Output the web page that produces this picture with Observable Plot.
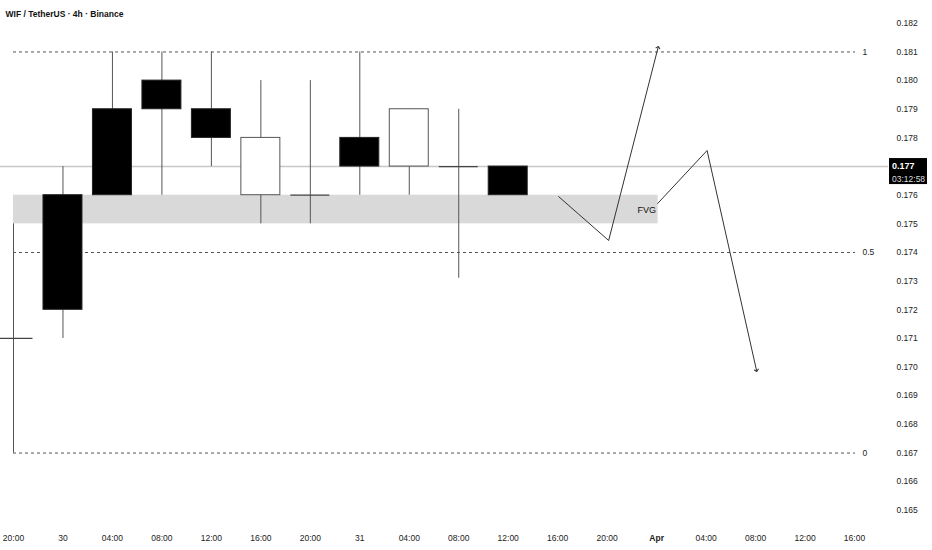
<!DOCTYPE html>
<html>
<head>
<meta charset="utf-8">
<script src="https://cdn.jsdelivr.net/npm/d3@7"></script>
<script src="https://cdn.jsdelivr.net/npm/@observablehq/plot@0.6"></script>
<style>
  html, body { margin: 0; padding: 0; background: #fff; }
  #chart svg { display: block; }
</style>
</head>
<body>
<div id="chart"></div>
<script>
// ---- data ----
const title = "WIF / TetherUS · 4h · Binance";
const xLabels = ["20:00","30","04:00","08:00","12:00","16:00","20:00","31","04:00","08:00","12:00","16:00","20:00","Apr","04:00","08:00","12:00","16:00"];
const candleIdx = [0, 1, 2, 3, 4, 5, 6, 7, 8, 9, 10];
const opens  = [0.171, 0.172, 0.176, 0.179, 0.178, 0.178, 0.176, 0.177, 0.179, 0.177, 0.176];
const highs  = [0.175, 0.177, 0.181, 0.181, 0.181, 0.180, 0.180, 0.181, 0.179, 0.179, 0.177];
const lows   = [0.167, 0.171, 0.176, 0.176, 0.177, 0.175, 0.175, 0.176, 0.176, 0.1731, 0.176];
const closes = [0.171, 0.176, 0.179, 0.180, 0.179, 0.176, 0.176, 0.178, 0.177, 0.177, 0.177];
const yTicks = [0.165,0.166,0.167,0.168,0.169,0.170,0.171,0.172,0.173,0.174,0.175,0.176,0.177,0.178,0.179,0.180,0.181,0.182];
const fibLevels = [0.181, 0.174, 0.167];
const fibLabels = ["1", "0.5", "0"];
const fibStart = 0, fibEnd = 17.02;
const fvgStart = 0, fvgEnd = 13.03, fvgLow = 0.175, fvgHigh = 0.176;
const fvgLabel = "FVG";
const upPathX = [11.02, 12.03, 13.03];
const upPathY = [0.17595, 0.17442, 0.18116];
const downPathX = [13.02, 14.02, 15.02];
const downPathY = [0.17571, 0.17756, 0.16988];
const lastPrice = 0.177;
const countdown = "03:12:58";

// ---- derived tables ----
const candles = candleIdx.map((i, k) => ({i, o: opens[k], h: highs[k], l: lows[k], c: closes[k]}));
const bodies = candles.filter(d => d.o !== d.c);
const dojis = candles.filter(d => d.o === d.c);
const fib = fibLevels.map((v, k) => ({v, label: fibLabels[k]}));
const upPath = upPathX.map((x, k) => ({x, y: upPathY[k]}));
const downPath = downPathX.map((x, k) => ({x, y: downPathY[k]}));
const axisTicks = yTicks.filter(t => Math.abs(t - lastPrice) > 1e-9);
const half = 0.394;
const FONT = "'Liberation Sans', Arial, sans-serif";
const FS = 8.5;

const priceTag = (index, scales, values, dimensions) => {
  const y = scales.y(lastPrice);
  const x0 = dimensions.width - dimensions.marginRight + 1;
  const g = d3.create("svg:g").attr("text-anchor", "start");
  g.append("rect").attr("x", x0).attr("y", y - 8).attr("width", 38).attr("height", 26).attr("fill", "#000");
  g.append("text").attr("x", x0 + 3).attr("y", y).attr("dy", "0.35em")
    .attr("fill", "#fff").attr("font-weight", "bold").attr("font-size", 9).text(lastPrice.toFixed(3));
  g.append("text").attr("x", x0 + 3).attr("y", y + 13).attr("dy", "0.35em")
    .attr("fill", "#ddd").attr("font-size", FS).text(countdown);
  return g.node();
};

const chart = Plot.plot({
  width: 932,
  height: 550,
  marginLeft: 0,
  marginRight: 44,
  marginTop: 0,
  marginBottom: 30,
  style: {fontFamily: FONT, fontSize: FS + "px", background: "#fff", color: "#222"},
  x: {type: "linear", domain: [-0.2628, 17.687], axis: null},
  y: {domain: [0.164646, 0.182796], axis: null},
  marks: [
    Plot.axisX({ticks: d3.range(xLabels.length), tickFormat: i => xLabels[i], tickSize: 0, tickPadding: 14, fontSize: FS, fill: "#222"}),
    Plot.axisY({anchor: "right", ticks: axisTicks, tickFormat: d3.format(".3f"), tickSize: 0, tickPadding: 8, fontSize: FS, fill: "#222"}),
    // FVG zone
    Plot.rect([0], {x1: fvgStart, x2: fvgEnd, y1: fvgLow, y2: fvgHigh, fill: "#d9d9d9"}),
    Plot.text([fvgLabel], {x: fvgEnd, y: (fvgLow + fvgHigh) / 2, dx: -2, dy: 1, textAnchor: "end", fontSize: 9, fill: "#111"}),
    // current price line
    Plot.ruleY([lastPrice], {stroke: "#c8c8c8", strokeWidth: 1.5}),
    // fib levels
    Plot.ruleY(fib, {y: "v", x1: fibStart, x2: fibEnd, stroke: "#555", strokeWidth: 1, strokeDasharray: "3,3"}),
    Plot.text(fib, {y: "v", x: fibEnd, text: "label", dx: 7, textAnchor: "start", fontSize: FS, fill: "#222"}),
    // wicks
    Plot.ruleX(candles, {x: "i", y1: "l", y2: "h", stroke: "#555", strokeWidth: 1, clip: true}),
    // bodies
    Plot.rect(bodies, {
      x1: d => d.i - half, x2: d => d.i + half,
      y1: "o", y2: "c",
      fill: d => d.c > d.o ? "#000" : "#fff",
      stroke: d => d.c > d.o ? "#222" : "#555",
      strokeWidth: 1,
      clip: true
    }),
    // doji bodies
    Plot.ruleY(dojis, {y: "o", x1: d => d.i - half, x2: d => d.i + half, stroke: "#444", strokeWidth: 1.2, clip: true}),
    // projection paths
    Plot.line(upPath, {x: "x", y: "y", stroke: "#333", strokeWidth: 1, markerEnd: "arrow"}),
    Plot.line(downPath, {x: "x", y: "y", stroke: "#333", strokeWidth: 1, markerEnd: "arrow"}),
    // title
    Plot.text([title], {frameAnchor: "top-left", dx: 5, dy: 14, lineAnchor: "middle", textAnchor: "start", fontWeight: "bold", fontSize: 8.5, fill: "#111"}),
    priceTag
  ]
});

d3.select(chart).selectAll("text").filter(function() { return this.textContent === "Apr"; }).attr("font-weight", "bold");
document.getElementById("chart").append(chart);
</script>
</body>
</html>
